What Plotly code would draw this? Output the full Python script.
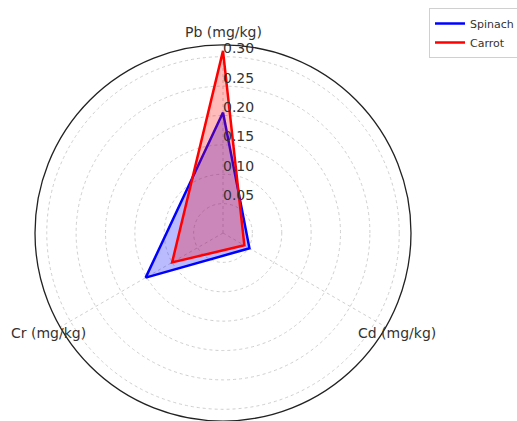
import math
import plotly.graph_objects as go

# Heavy-metal content per vegetable (mg/kg)
metals = ["Pb (mg/kg)", "Cd (mg/kg)", "Cr (mg/kg)"]
spinach = [0.205, 0.052, 0.152]
carrot = [0.31, 0.042, 0.10]
radial_ticks = [0.05, 0.10, 0.15, 0.20, 0.25, 0.30]
radial_tick_text = ["0.05", "0.10", "0.15", "0.20", "0.25", "0.30"]
r_max = 0.32
label_r = 0.342  # radius at which the category names sit

W, H = 517, 421
cx, cy, rad = 223, 233, 188  # polar area centre / radius in pixels

fig = go.Figure()

series = [
    ("Spinach", spinach, "rgb(0,0,255)", "rgba(0,0,255,0.27)"),
    ("Carrot", carrot, "rgb(255,0,0)", "rgba(255,0,0,0.27)"),
]
for name, vals, line_col, fill_col in series:
    r_closed = vals + vals[:1]
    th_closed = metals + metals[:1]
    fig.add_trace(go.Scatterpolar(
        r=r_closed, theta=th_closed, mode="lines", name=name,
        line=dict(color=line_col, width=2.5), hoverinfo="skip",
    ))
    fig.add_trace(go.Scatterpolar(
        r=r_closed, theta=th_closed, mode="none", fill="toself",
        fillcolor=fill_col, showlegend=False, hoverinfo="skip",
    ))

# radial tick labels placed along the Pb spoke
fig.add_trace(go.Scatterpolar(
    r=radial_ticks, theta=[metals[0]] * len(radial_ticks), mode="text",
    text=radial_tick_text, textposition="top right",
    textfont=dict(family="DejaVu Sans", size=14, color="#333333"),
    showlegend=False, hoverinfo="skip", cliponaxis=False,
))

# category names centred just outside the outer ring (clockwise from the top)
annotations = []
for i, name in enumerate(metals):
    ang = math.radians(90 - i * 360 / len(metals))
    px = cx + label_r / r_max * rad * math.cos(ang)
    py = cy - label_r / r_max * rad * math.sin(ang)
    annotations.append(dict(
        x=px / W, y=1 - py / H, xref="paper", yref="paper",
        text=name, showarrow=False, xanchor="center", yanchor="middle",
        font=dict(family="DejaVu Sans", size=14, color="#333333"),
    ))

y0 = max(0.0, (H - cy - rad) / H)
fig.update_layout(
    width=W, height=H,
    margin=dict(l=0, r=0, t=0, b=0, autoexpand=False),
    paper_bgcolor="white",
    font=dict(family="DejaVu Sans", color="#333333"),
    annotations=annotations,
    polar=dict(
        domain=dict(x=[(cx - rad) / W, (cx + rad) / W],
                    y=[y0, y0 + 2 * rad / H]),
        bgcolor="white",
        radialaxis=dict(
            range=[0, r_max], tickvals=radial_ticks, showticklabels=False,
            ticks="", showline=False, gridcolor="#cfcfcf", griddash="dot",
            gridwidth=1, angle=90,
        ),
        angularaxis=dict(
            rotation=90, direction="clockwise", showticklabels=False,
            ticks="", showline=True, linecolor="#222222", linewidth=1.3,
            gridcolor="#cfcfcf", griddash="dot", gridwidth=1,
        ),
    ),
    legend=dict(
        x=429 / W, y=1 - 8 / H,
        xanchor="left", yanchor="top",
        bordercolor="#d0d0d0", borderwidth=1, bgcolor="white",
        font=dict(family="DejaVu Sans", size=11, color="#333333"),
        itemwidth=30, tracegroupgap=0,
    ),
)

fig.write_html("out.html")
